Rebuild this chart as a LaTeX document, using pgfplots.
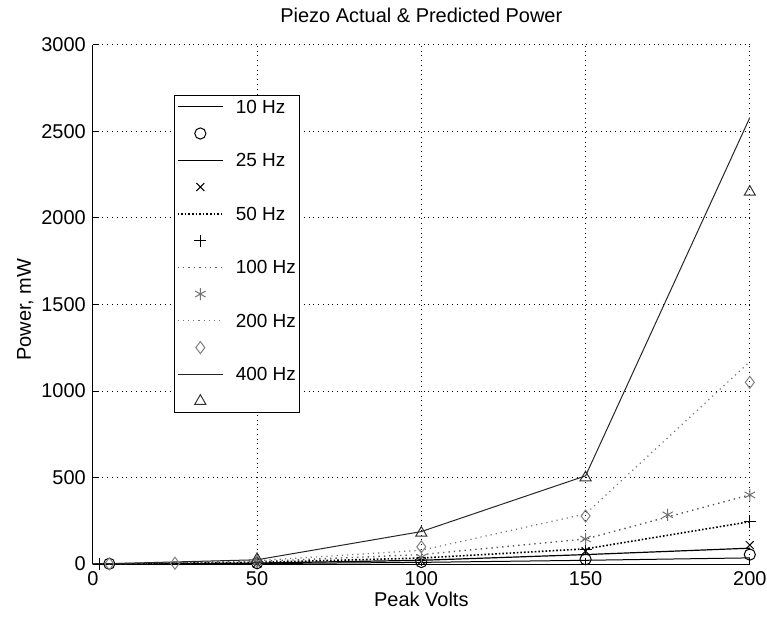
\documentclass[border=0pt]{standalone}
\usepackage{fontspec}
\setmainfont{Liberation Sans}
\usepackage{pgfplots}
\pgfplotsset{compat=1.18}
\begin{document}
\begin{tikzpicture}
\path[use as bounding box] (-46.5pt,-27.5pt) rectangle (337.6pt,282.5pt);
\begin{axis}[
  at={(0,0)}, anchor=south west,
  scale only axis, width=329pt, height=260pt,
  xmin=0, xmax=200, ymin=0, ymax=3000,
  xtick={0,50,100,150,200}, ytick={0,500,1000,1500,2000,2500,3000},
  axis x line*=bottom, axis y line*=left,
  axis line style={-, black, line width=0.5pt},
  tick align=inside, major tick length=3pt,
  tick style={black, line width=0.5pt},
  grid=major, major grid style={dotted, black, line width=0.5pt},
  /pgf/number format/assume math mode=true,
  /pgf/number format/set thousands separator={},
  ticklabel style={font=\fontsize{10}{12}\selectfont},
  every axis title/.style={at={(axis description cs:0.5,1)}, anchor=center, yshift=15pt, font=\fontsize{10}{12}\selectfont},
  title={Piezo Actual \& Predicted Power},
  xlabel={Peak Volts},
  xlabel style={at={(axis description cs:0.5,-0.067)}, anchor=center, font=\fontsize{10}{12}\selectfont},
  ylabel={Power, mW},
  ylabel style={at={(axis description cs:-0.103,0.49)}, anchor=center, rotate=0, font=\fontsize{10}{12}\selectfont},
  legend style={at={(0.124,0.904)}, anchor=north west, draw=black, line width=0.5pt,
    font=\fontsize{9.5}{11}\selectfont, row sep=4.9pt, inner xsep=1pt, inner ysep=1.5pt,
    nodes={text height=6.5pt, text depth=0pt, inner sep=1pt},
    /tikz/every odd column/.style={column sep=5pt}},
  legend cell align=left,
  legend image code/.code={\draw[mark repeat=2,mark phase=2] plot coordinates {(0cm,0cm) (0.4cm,0cm) (0.8cm,0cm)};},
  mark options={solid},
]
% 10 Hz
\addplot[black, line width=0.5pt] coordinates {(0,0) (50,3) (100,10) (150,22) (200,36)};
\addlegendentry{10 Hz}
\addplot[only marks, mark=o, mark size=2.8pt, black, line width=0.5pt] coordinates {(5,2) (50,5) (100,12) (150,28) (200,55)};
\addlegendentry{}
% 25 Hz
\addplot[black, line width=0.6pt] coordinates {(0,0) (50,6) (100,22) (150,55) (200,92)};
\addlegendentry{25 Hz}
\addplot[only marks, mark=x, mark size=2.8pt, black, line width=0.5pt] coordinates {(50,5) (100,18) (150,75) (200,110)};
\addlegendentry{}
% 50 Hz
\addplot[black, densely dotted, line width=0.8pt] coordinates {(0,0) (50,10) (100,35) (150,88) (200,245)};
\addlegendentry{50 Hz}
\addplot[only marks, mark=+, mark size=3pt, black, line width=0.5pt] coordinates {(2,0) (50,8) (100,25) (150,85) (200,245)};
\addlegendentry{}
% 100 Hz
\addplot[black!65, dotted, line width=0.7pt] coordinates {(0,0) (50,15) (100,55) (150,145) (200,400)};
\addlegendentry{100 Hz}
\addplot[only marks, mark=asterisk, mark size=3pt, black!55, line width=0.5pt] coordinates {(50,12) (100,40) (150,145) (175,285) (200,400)};
\addlegendentry{}
% 200 Hz
\addplot[black!55, dotted, line width=0.6pt] coordinates {(0,0) (50,20) (100,80) (150,290) (200,1170)};
\addlegendentry{200 Hz}
\addplot[only marks, mark=diamond, mark size=3pt, black!50, line width=0.5pt] coordinates {(5,1) (25,5) (50,15) (100,100) (150,278) (200,1050)};
\addlegendentry{}
% 400 Hz
\addplot[black!85, line width=0.5pt] coordinates {(0,0) (50,25) (100,188) (150,510) (200,2580)};
\addlegendentry{400 Hz}
\addplot[only marks, mark=triangle, mark size=3.2pt, black!80, line width=0.5pt] coordinates {(50,28) (100,180) (150,500) (200,2150)};
\addlegendentry{}
\end{axis}
\end{tikzpicture}
\end{document}
